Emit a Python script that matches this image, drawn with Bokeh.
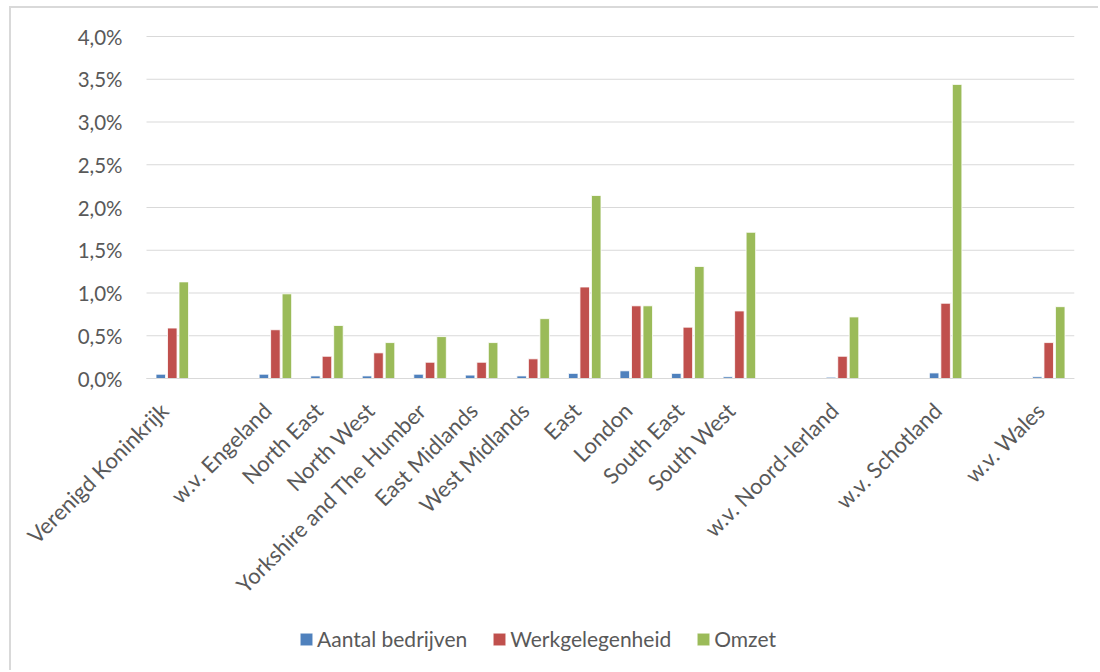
import math
from bokeh.plotting import figure
from bokeh.models import Range1d, FixedTicker, Legend, LegendItem, ColumnDataSource
from bokeh.embed import file_html
from bokeh.resources import INLINE

# ---- data (percentages) ----
categories = ["Verenigd Koninkrijk", "", "w.v. Engeland", "North East", "North West",
              "Yorkshire and The Humber", "East Midlands", "West Midlands", "East",
              "London", "South East", "South West", "", "w.v. Noord-Ierland", "",
              "w.v. Schotland", "", "w.v. Wales"]
aantal_bedrijven = [0.05, None, 0.05, 0.03, 0.03, 0.05, 0.04, 0.03, 0.06, 0.09, 0.06, 0.02,
                    None, 0.015, None, 0.065, None, 0.02]
werkgelegenheid = [0.59, None, 0.57, 0.26, 0.30, 0.19, 0.19, 0.23, 1.07, 0.85, 0.60, 0.79,
                   None, 0.26, None, 0.88, None, 0.42]
omzet = [1.13, None, 0.99, 0.62, 0.42, 0.49, 0.42, 0.70, 2.14, 0.85, 1.31, 1.71,
         None, 0.72, None, 3.44, None, 0.84]
series_names = ["Aantal bedrijven", "Werkgelegenheid", "Omzet"]
series_colors = ["#4f81bd", "#c0504d", "#9bbb59"]
y_ticks = [0.0, 0.5, 1.0, 1.5, 2.0, 2.5, 3.0, 3.5, 4.0]

FONT = "Lato"
TXT = "#595959"
GRID = "#d9d9d9"

# layout: the plot frame covers the whole canvas so that the rotated category
# labels, the value axis and the legend can all live inside it
W, H = 1089, 664
TOP = 28                    # pixels above the 4,0% gridline
RIGHT = 26
PX_PER_UNIT = 85.5          # pixels per 1 %-point
PX_PER_CAT = 928 / 18       # pixels per category slot
n = len(categories)
x_lo, x_hi = -0.5, n - 0.5
x_start = x_hi - (W - RIGHT) / PX_PER_CAT
y_max = 4.0 + TOP / PX_PER_UNIT
y_min = 4.0 - (H - TOP) / PX_PER_UNIT

p = figure(width=W, height=H, output_backend="svg", toolbar_location=None,
           x_range=Range1d(x_start, x_hi), y_range=Range1d(y_min, y_max),
           min_border_left=0, min_border_right=RIGHT, min_border_top=0, min_border_bottom=0)
p.styles = {"margin-left": "9px", "margin-top": "6px",
            "border-left": "2px solid #d9d9d9", "border-top": "2px solid #d9d9d9"}
p.outline_line_color = None
p.background_fill_color = "white"
p.border_fill_color = "white"

# horizontal gridlines over the category area only
p.segment(x0=[x_lo] * len(y_ticks), x1=[x_hi] * len(y_ticks), y0=y_ticks, y1=y_ticks,
          line_color=GRID, line_width=1.2)

offsets = [-0.223, 0.0, 0.223]
renderers = []
for vals, off, col in zip([aantal_bedrijven, werkgelegenheid, omzet], offsets, series_colors):
    xs = [i + off for i, v in enumerate(vals) if v is not None]
    ys = [v for v in vals if v is not None]
    src = ColumnDataSource(dict(x=xs, top=ys))
    r = p.vbar(x="x", top="top", bottom=0, width=0.185, source=src,
               fill_color=col, line_color="white", line_width=0.8)
    renderers.append(r)

# y axis drawn at the left edge of the category area
p.yaxis.fixed_location = x_lo
p.yaxis.ticker = FixedTicker(ticks=y_ticks)
p.yaxis.major_label_overrides = {t: ("%.1f%%" % t).replace(".", ",") for t in y_ticks}
p.yaxis.axis_line_color = None
p.yaxis.major_tick_line_color = None
p.yaxis.minor_tick_line_color = None
p.yaxis.major_label_standoff = 18
p.yaxis.major_label_text_font = FONT
p.yaxis.major_label_text_font_size = "20.5px"
p.yaxis.major_label_text_color = TXT

# x axis drawn at y = 0 (labels anchored slightly left of the category centre)
tick_pos = [i - 0.16 for i, c in enumerate(categories) if c]
tick_lab = [c for c in categories if c]
p.xaxis.fixed_location = 0
p.xaxis.bounds = (x_lo, x_hi)
p.xaxis.ticker = FixedTicker(ticks=tick_pos)
p.xaxis.major_label_overrides = dict(zip(tick_pos, tick_lab))
p.xaxis.major_label_orientation = math.pi / 4
p.xaxis.axis_line_color = GRID
p.xaxis.axis_line_width = 1.2
p.xaxis.major_tick_line_color = None
p.xaxis.minor_tick_line_color = None
p.xaxis.major_label_standoff = 22
p.xaxis.major_label_text_font = FONT
p.xaxis.major_label_text_font_size = "22px"
p.xaxis.major_label_text_color = TXT

p.xgrid.grid_line_color = None
p.ygrid.grid_line_color = None

legend = Legend(items=[LegendItem(label=n_, renderers=[r]) for n_, r in zip(series_names, renderers)],
                orientation="horizontal", location=(287, 21),
                border_line_color=None, background_fill_alpha=0, padding=0, margin=0,
                spacing=24, glyph_width=16, glyph_height=16, label_standoff=3,
                label_text_font=FONT, label_text_font_size="21px", label_text_color=TXT)
p.add_layout(legend)

open("out.html", "w").write(file_html(p, INLINE))
